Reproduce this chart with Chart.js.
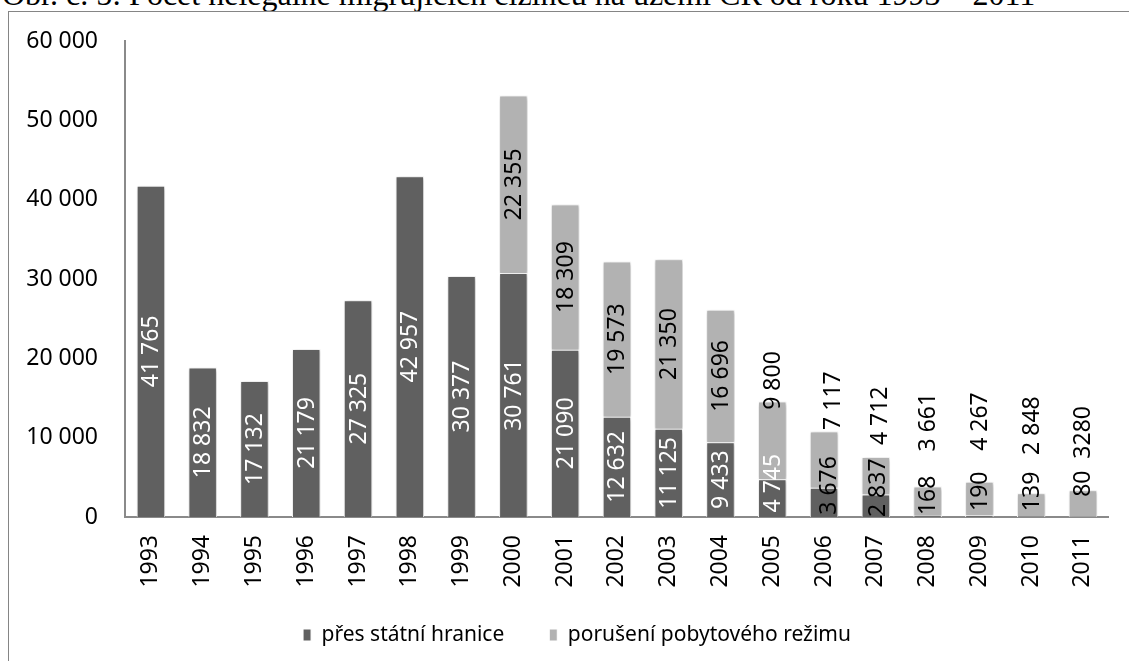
<!DOCTYPE html>
<html>
<head>
<meta charset="utf-8">
<script src="https://cdn.jsdelivr.net/npm/chart.js@4.4.0/dist/chart.umd.min.js"></script>
<style>
    body { margin: 0; background: #fff; overflow: hidden; }
    #title {
        position: absolute; left: 2px; top: -22px; white-space: nowrap;
        font-family: "Liberation Serif", "Times New Roman", serif; font-size: 32px; line-height: 32px; color: #000;
    }
    #frame {
        position: absolute; left: 8px; top: 11px; width: 1200px; height: 700px;
        border: 1px solid #858585;
    }
    #wrap { position: absolute; left: 0; top: 0; width: 1129px; height: 661px; }
</style>
</head>
<body>
<div id="title">Obr. č. 5: Počet nelegálně migrujících cizinců na území ČR od roku 1993 – 2011</div>
<div id="frame"></div>
<div id="wrap"><canvas id="chart"></canvas></div>
<script>
// data z grafu
const roky = ['1993', '1994', '1995', '1996', '1997', '1998', '1999', '2000', '2001', '2002',
    '2003', '2004', '2005', '2006', '2007', '2008', '2009', '2010', '2011'];
const presHranice = [41765, 18832, 17132, 21179, 27325, 42957, 30377, 30761, 21090, 12632,
    11125, 9433, 4745, 3676, 2837, 168, 190, 139, 80];
const poruseniPobytu = [null, null, null, null, null, null, null, 22355, 18309, 19573,
    21350, 16696, 9800, 7117, 4712, 3661, 4267, 2848, 3280];
const osaY = [0, 10000, 20000, 30000, 40000, 50000, 60000];

// posuny popisku (px) - v originale rucne posunute
const posunTmave = [0, 0, 0, 0, 0, 0, 0, 0, 0, 0, 0, 0, -15, -17, -18, -21, -25, -25, -33];
const posunSvetle = [0, 0, 0, 0, 0, 0, 0, 0, 0, 0, 0, 0, -60, -59, -60, -79, -77, -79, -71];
const posunX = [0, 0, 0, 0, 0, 0, 0, 0, 0, 0, 0, 0, 0, 8, 4, 0, 0, 0, 0];
// od roku 2006 jsou tmave popisky cerne
const bilyPopisek = [1, 1, 1, 1, 1, 1, 1, 1, 1, 1, 1, 1, 1, 0, 0, 0, 0, 0, 0];

const pismo = '"Noto Sans", "Open Sans", sans-serif';

function formatCislo(n) {
    return String(n).replace(/\B(?=(\d{3})+(?!\d))/g, ' ');
}

const stinPlugin = {
    id: 'stin',
    beforeDatasetsDraw(chart) {
        const ctx = chart.ctx;
        ctx.save();
        ctx.shadowColor = 'rgba(0,0,0,0.28)';
        ctx.shadowBlur = 4;
        ctx.shadowOffsetX = 1;
        ctx.shadowOffsetY = 1;
    },
    afterDatasetsDraw(chart) {
        chart.ctx.restore();
    }
};

const popiskyPlugin = {
    id: 'popisky',
    afterDatasetsDraw(chart) {
        const ctx = chart.ctx;
        ctx.save();
        ctx.font = '23px ' + pismo;
        ctx.textAlign = 'center';
        ctx.textBaseline = 'middle';
        chart.data.datasets.forEach((ds, di) => {
            const meta = chart.getDatasetMeta(di);
            meta.data.forEach((bar, i) => {
                const v = ds.data[i];
                if (v === null || v === undefined) return;
                const p = bar.getProps(['x', 'y', 'base'], true);
                const posun = di === 0 ? posunTmave[i] : posunSvetle[i];
                const cx = p.x + posunX[i] * (di === 0 ? 0.5 : 1);
                const cy = (p.y + p.base) / 2 + posun;
                // 2011 je v originale bez mezery
                const txt = (di === 1 && roky[i] === '2011') ? String(v) : formatCislo(v);
                ctx.save();
                ctx.translate(cx, cy);
                ctx.rotate(-Math.PI / 2);
                ctx.fillStyle = (di === 0 && bilyPopisek[i]) ? '#ffffff' : '#000000';
                ctx.fillText(txt, 0, 1);
                ctx.restore();
            });
        });
        ctx.restore();
    }
};

// legenda: posun na spravne misto pod osou
const legendaPosun = {
    id: 'legendaPosun',
    afterLayout(chart) {
        const lg = chart.legend;
        lg.left += 21;
        lg.right += 21;
        lg.top = 579.5;
        lg.height = 76;
        lg.bottom = lg.top + lg.height;
    }
};

const ctx = document.getElementById('chart').getContext('2d');
const chart = new Chart(ctx, {
    type: 'bar',
    data: {
        labels: roky,
        datasets: [
            {
                label: 'přes státní hranice',
                data: presHranice,
                backgroundColor: '#606060',
                borderColor: '#ffffff',
                borderWidth: 1,
                barPercentage: 0.55,
                categoryPercentage: 1,
            },
            {
                label: 'porušení pobytového režimu',
                data: poruseniPobytu,
                backgroundColor: '#b2b2b2',
                borderColor: '#ffffff',
                borderWidth: 1,
                barPercentage: 0.55,
                categoryPercentage: 1,
            },
        ],
    },
    options: {
        responsive: true,
        maintainAspectRatio: false,
        animation: false,
        layout: { padding: { left: 0, right: 17, top: 41, bottom: 24 } },
        plugins: {
            tooltip: { enabled: false },
            legend: {
                position: 'bottom',
                maxHeight: 40,
                labels: {
                    boxWidth: 8,
                    boxHeight: 12,
                    padding: 45,
                    color: '#000',
                    font: { family: pismo, size: 21 },
                },
            },
        },
        scales: {
            x: {
                stacked: true,
                grid: { display: false, drawTicks: false },
                border: { display: true, color: '#8a8a8a', width: 2 },
                ticks: {
                    color: '#000',
                    font: { family: pismo, size: 23 },
                    minRotation: 90,
                    maxRotation: 90,
                    padding: 18,
                    autoSkip: false,
                },
                afterFit(scale) { scale.height = 80; },
            },
            y: {
                stacked: true,
                min: 0,
                max: 60000,
                afterBuildTicks(scale) { scale.ticks = osaY.map(v => ({ value: v })); },
                grid: { display: false, drawTicks: false },
                border: { display: true, color: '#8a8a8a', width: 2 },
                ticks: {
                    color: '#000',
                    font: { family: pismo, size: 23 },
                    padding: 27,
                    callback: v => formatCislo(v),
                },
                afterFit(scale) { scale.width = 125; },
            },
        },
    },
    plugins: [stinPlugin, popiskyPlugin, legendaPosun],
});
</script>
</body>
</html>
